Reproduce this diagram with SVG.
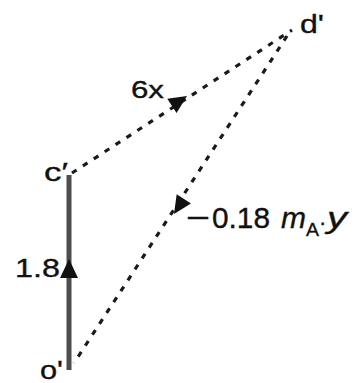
<svg xmlns="http://www.w3.org/2000/svg" width="355" height="383" viewBox="0 0 355 383">
<style>
.t{font-family:"Liberation Sans",Arial,sans-serif;fill:#111;stroke:#111;stroke-width:0.35;}
.dash{stroke:#1a1a1a;stroke-width:3.2;stroke-dasharray:5.5 7.5;fill:none;}
.ah{fill:#111;}
</style>
<rect width="355" height="383" fill="#fff"/>
<g id="connectors">
  <line id="o-c" x1="69" y1="175" x2="69" y2="370" stroke="#4d4d4d" stroke-width="5"/>
  <line id="c-d" class="dash" x1="72" y1="173" x2="292" y2="30"/>
  <line id="d-o" class="dash" x1="287" y1="36" x2="74" y2="363"/>
  <polygon class="ah" points="69,259 60,278 78,278"/>
  <polygon class="ah" transform="translate(187,96) rotate(-33)" points="0,0 -18,-8.5 -18,8.5"/>
  <polygon class="ah" transform="translate(174,214) rotate(123)" points="0,0 -18,-8.5 -18,8.5"/>
</g>
<g id="node-c"><text class="t" x="44" y="181" font-size="26" textLength="24" lengthAdjust="spacingAndGlyphs">c′</text></g>
<g id="node-d"><text class="t" x="300" y="33" font-size="26" textLength="24" lengthAdjust="spacingAndGlyphs">d'</text></g>
<g id="node-o"><text class="t" x="40" y="379" font-size="25" textLength="23" lengthAdjust="spacingAndGlyphs">o'</text></g>
<g id="label-18"><text class="t" x="15" y="277" font-size="26" textLength="45" lengthAdjust="spacingAndGlyphs">1.8</text></g>
<g id="label-6x"><text class="t" x="131" y="98" font-size="24" textLength="33" lengthAdjust="spacingAndGlyphs">6x</text></g>
<g id="label-m">
  <text class="t" x="186" y="228" font-size="30" textLength="24" lengthAdjust="spacingAndGlyphs">−</text>
  <text class="t" x="212" y="228" font-size="30" textLength="58" lengthAdjust="spacingAndGlyphs">0.18</text>
  <text class="t" x="281" y="228" font-size="30" font-style="italic" textLength="25" lengthAdjust="spacingAndGlyphs">m</text>
  <text class="t" x="306" y="236" font-size="19" textLength="13" lengthAdjust="spacingAndGlyphs">A</text>
  <text class="t" x="319" y="230" font-size="22">·</text>
  <text class="t" x="327" y="228" font-size="30" font-style="italic" textLength="20" lengthAdjust="spacingAndGlyphs">y</text>
</g>
</svg>
